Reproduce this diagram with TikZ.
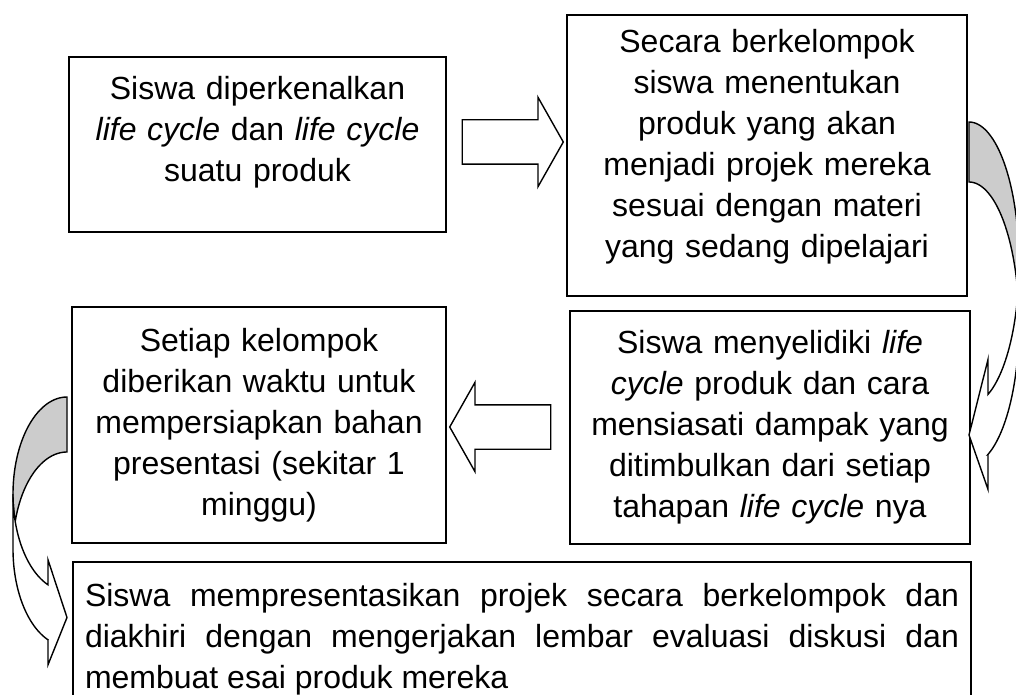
\documentclass[tikz,border=0pt]{standalone}
\usepackage{fontspec}
\setmainfont{Liberation Sans}
\usetikzlibrary{shapes.arrows}

\tikzset{
	box/.style={draw, line width=1pt, inner xsep=6pt, inner ysep=0pt, align=center,
		font=\fontsize{16}{20.5}\selectfont},
	flatarrow/.style={single arrow, draw, line width=0.7pt, fill=white,
		inner xsep=0pt, inner ysep=10.75pt,
		minimum height=50.5pt, minimum width=44pt, single arrow head extend=11.25pt,
		single arrow tip angle=121},
	bend front/.style={draw, line width=0.7pt, fill=white},
	bend back/.style={draw, line width=0.7pt, fill=black!20},
}

\begin{document}
\begin{tikzpicture}[x=0.5pt,y=-0.5pt]
	
	\useasboundingbox (0,0) rectangle (1016,695);
	
	% Steps
	\node[box, text width=176.5pt, minimum height=87.5pt] (b1) at (257.5,144.5)
	{Siswa diperkenalkan\\ \emph{life cycle} dan \emph{life cycle}\\ suatu produk\rule[-16pt]{0pt}{0pt}};
	\node[box, text width=188pt, minimum height=140.5pt] (b2) at (767,155.5)
	{Secara berkelompok\\ siswa menentukan\\ produk yang akan\\ menjadi projek mereka\\ sesuai dengan materi\\ yang sedang dipelajari\rule[-12pt]{0pt}{0pt}};
	\node[box, text width=175pt, minimum height=118pt] (b3) at (259,425)
	{Setiap kelompok\\ diberikan waktu untuk\\ mempersiapkan bahan\\ presentasi (sekitar 1\\ minggu)};
	\node[box, text width=188pt, minimum height=116.5pt] (b4) at (770,427.5)
	{Siswa menyelidiki \emph{life}\\ \emph{cycle} produk dan cara\\ mensiasati dampak yang\\ ditimbulkan dari setiap\\ tahapan \emph{life cycle} nya};
	\node[box, align=justify, text width=437pt, minimum height=77pt] (b5) at (522,639)
	{Siswa mempresentasikan projek secara berkelompok dan\linebreak
		diakhiri dengan mengerjakan lembar evaluasi diskusi dan\linebreak
		membuat esai produk mereka};
	
	% Straight arrows between the boxes
	\node[flatarrow] (a12) at (506.5,142) {};
	\node[flatarrow, shape border rotate=180] (a43) at (506.5,427) {};
	
	% Curved arrow on the right: box 2 down to box 4
	\draw[bend back] (969,182)
		-- plot[domain=-90:-12.2, samples=40] ({969+50*cos(\x)},{323.5+141.5*sin(\x)})
		-- plot[domain=12.2:-90, samples=40] ({969+50*cos(\x)},{263.5+141.5*sin(\x)})
		-- cycle;
	\draw[bend front] (1019,263.5)
		-- plot[domain=0:67.7, samples=40] ({969+50*cos(\x)},{263.5+141.5*sin(\x)})
		-- (988,359.4) -- (969,435) -- (988,489.4) -- (988,454.4)
		-- plot[domain=67.7:0, samples=40] ({969+50*cos(\x)},{323.5+141.5*sin(\x)})
		-- cycle;
	
	% Curved arrow on the left: box 3 down to box 5
	\draw[bend back] (67,452)
		-- plot[domain=270:196.5, samples=40] ({67+54*cos(\x)},{549+97*sin(\x)})
		-- plot[domain=163.5:270, samples=40] ({67+54*cos(\x)},{494+97*sin(\x)})
		-- cycle;
	\draw[bend front] (13,494)
		-- plot[domain=180:110.6, samples=40] ({67+54*cos(\x)},{494+97*sin(\x)})
		-- (48,559.8) -- (67,617.5) -- (48,664.8) -- (48,639.8)
		-- plot[domain=110.6:180, samples=40] ({67+54*cos(\x)},{549+97*sin(\x)})
		-- cycle;
	
\end{tikzpicture}
\end{document}
